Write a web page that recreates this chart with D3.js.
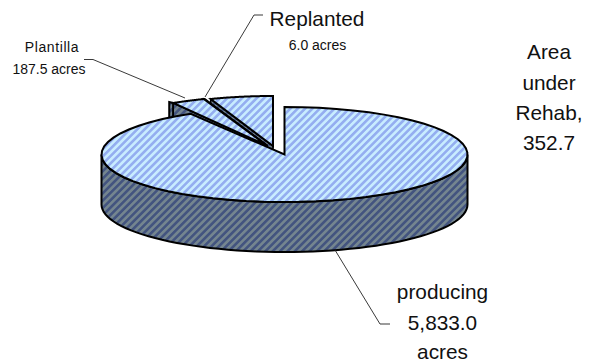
<!DOCTYPE html>
<html>
<head>
<meta charset="utf-8">
<script src="https://cdnjs.cloudflare.com/ajax/libs/d3/7.8.5/d3.min.js"></script>
<style>
  html, body { margin: 0; padding: 0; background: #fff; }
  svg { display: block; }
  text { font-family: "Liberation Sans", Arial, sans-serif; fill: #111; text-anchor: middle; }
</style>
</head>
<body>
<svg id="chart" width="590" height="362"></svg>
<script>
// Land use, in acres, clockwise from twelve o'clock
const categories = ["producing", "Plantilla", "Replanted", "Area under Rehab"];
const acres = [5833.0, 187.5, 6.0, 352.7];

const svg = d3.select("#chart");
const defs = svg.append("defs");

function stripes(id, base, line) {
  const p = defs.append("pattern").attr("id", id)
    .attr("patternUnits", "userSpaceOnUse")
    .attr("width", 5.2).attr("height", 5.2)
    .attr("patternTransform", "rotate(45)");
  p.append("rect").attr("width", 5.2).attr("height", 5.2).attr("fill", base);
  p.append("rect").attr("width", 2.6).attr("height", 5.2).attr("fill", line);
}
stripes("topFace", "#c8ecff", "#94aef0");
stripes("sideFace", "#74858f", "#43547f");

// Tilted disc: the main slice sits in place, the other three are pulled out
const rx = 183, depth = 50;
const discs = [
  { cx: 284.5, cy: 154.5, ry: 47.5 },
  { cx: 267, cy: 145.5, ry: 49.5 },
  { cx: 267, cy: 145.5, ry: 49.5 },
  { cx: 273, cy: 146, ry: 50 }
];

const slices = d3.pie().sort(null).startAngle(0).endAngle(2 * Math.PI)(acres);

const project = (d, a, dy = 0) => [d.cx + rx * Math.sin(a), d.cy - d.ry * Math.cos(a) + dy];
const line = d3.line();
const arcPoints = (d, a0, a1, dy = 0) =>
  d3.range(0, 61).map(i => project(d, a0 + (a1 - a0) * i / 60, dy));

function shape(points, fill, width) {
  svg.append("path")
    .attr("d", line(points) + "Z")
    .attr("fill", fill)
    .attr("stroke", "#000")
    .attr("stroke-width", width)
    .attr("stroke-linejoin", "miter");
}

// Pulled-out slices, back to front so each cut face stays under the next top face
[3, 2, 1].forEach(i => {
  const s = slices[i], d = discs[i];
  const apex = [d.cx, d.cy];
  const a = project(d, s.startAngle);
  if (i === 1) {
    // Rim of the Plantilla slice, showing past its left corner
    shape([a, [a[0] - 4, a[1] - 1], [a[0] - 4, a[1] + depth], [a[0], a[1] + depth]], "url(#sideFace)", 2);
  }
  // Cut face running down from the slice's leading edge
  shape([apex, a, [a[0], a[1] + depth], [apex[0], apex[1] + depth]], "url(#sideFace)", 1.6);
  shape([apex, ...arcPoints(d, s.startAngle, s.endAngle)], "url(#topFace)", 2);
});

// Main slice: visible wall first, then the top face
const main = slices[0], dm = discs[0];
const wallTop = arcPoints(dm, Math.PI / 2, 3 * Math.PI / 2);
const wallBottom = arcPoints(dm, 3 * Math.PI / 2, Math.PI / 2, depth);
shape([...wallTop, ...wallBottom], "url(#sideFace)", 2);
shape([[dm.cx, dm.cy], ...arcPoints(dm, main.startAngle, main.endAngle)], "url(#topFace)", 2);

// Leader lines
const leaders = [
  [[84, 59.5], [93, 59.5], [185, 98]],
  [[263, 15], [254, 15], [205, 97]],
  [[390, 324], [380, 324], [335, 250]]
];
svg.selectAll(".leader").data(leaders).join("path")
  .attr("class", "leader")
  .attr("d", line)
  .attr("fill", "none")
  .attr("stroke", "#222")
  .attr("stroke-width", 0.9);

// Data labels
const fmt = d3.format(",.1f");
const labels = [
  { x: 317, y: 26, size: 20.8, text: categories[2] },
  { x: 317.5, y: 50, size: 14, text: `${fmt(acres[2])} acres` },
  { x: 52, y: 52, size: 14, spacing: 0.6, text: categories[1] },
  { x: 49, y: 74, size: 14, text: `${fmt(acres[1])} acres` },
  { x: 549, y: 59, size: 20.8, text: "Area" },
  { x: 549, y: 90, size: 20.8, text: "under" },
  { x: 549, y: 120, size: 20.8, text: "Rehab," },
  { x: 549, y: 150, size: 20.8, text: fmt(acres[3]) },
  { x: 442.5, y: 299, size: 20.8, text: categories[0] },
  { x: 442.5, y: 330, size: 20.8, text: fmt(acres[0]) },
  { x: 442.5, y: 358.5, size: 20.8, text: "acres" }
];
svg.selectAll(".label").data(labels).join("text")
  .attr("class", "label")
  .attr("x", d => d.x).attr("y", d => d.y)
  .attr("font-size", d => d.size)
  .attr("letter-spacing", d => d.spacing || null)
  .text(d => d.text);
</script>
</body>
</html>
